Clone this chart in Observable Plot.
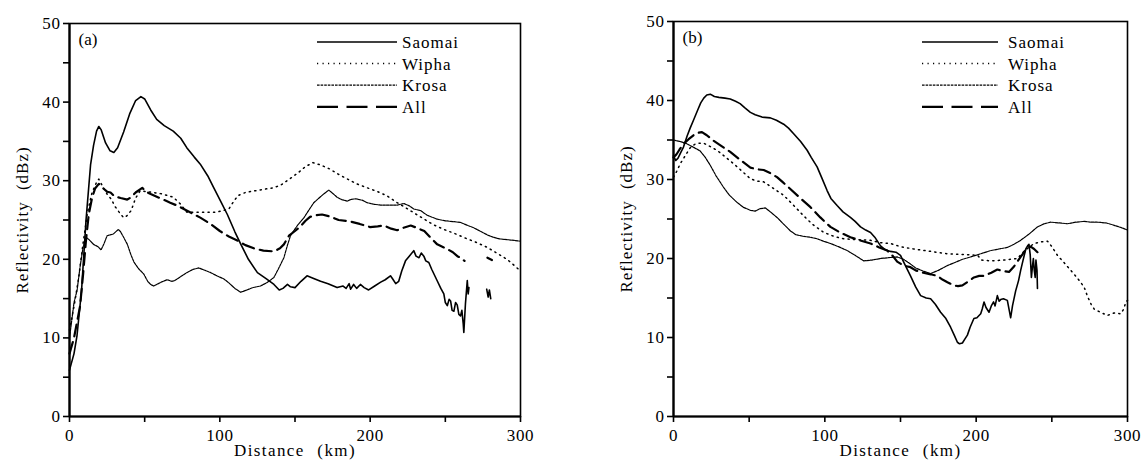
<!DOCTYPE html>
<html><head><meta charset="utf-8">
<script src="https://cdn.jsdelivr.net/npm/d3@7"></script>
<script src="https://cdn.jsdelivr.net/npm/@observablehq/plot@0.6"></script>
<style>
body{margin:0;background:#fff;}
#wrap{display:flex;width:1142px;height:463px;overflow:hidden;}
#wrap svg{flex:none;}
</style></head><body><div id="wrap"></div>
<script>
// ---- Data (distance km, reflectivity dBz); null = gap ----
const seriesNames = ["Saomai", "Wipha", "Krosa", "All"];
const xTicks = [0, 100, 200, 300];
const xMinor = [50, 150, 250];
const yTicks = [0, 10, 20, 30, 40, 50];
const yMinor = [5, 15, 25, 35, 45];
const xLabel = "Distance (km)";
const yLabel = "Reflectivity (dBz)";

const saomaiA = [[0,5.9],[3,8],[5,10.3],[8,16],[11,25],[14,32],[16,34.5],[18,36.3],[19.5,36.9],[21,36.5],[24,34.8],[27,33.8],[29.5,33.6],[32,34.2],[36,36.2],[40,38.5],[44,40.2],[47.5,40.7],[50,40.4],[54,39],[58,37.8],[63,37],[69,36.3],[74,35.4],[78,34.2],[83,33],[87,32.1],[92,30.6],[96,29.1],[101,27.2],[105,25.7],[110,23.5],[114,21.9],[119,20],[125,18.3],[131,17.5],[136,16.8],[139.5,16.1],[142,16.3],[145,16.8],[147,16.5],[150,16.4],[154,17.2],[158,17.9],[162,17.6],[167,17.2],[172,16.9],[178,16.4],[182,16.6],[184,16.3],[186,16.9],[187,16.2],[189,16.8],[191,16.3],[193.5,16.8],[196,16.4],[199,16.1],[203,16.6],[207,17.1],[210,17.4],[213.5,17.9],[215,17.5],[217,16.9],[219,17.2],[221,18.5],[223.5,19.8],[226,20.4],[229,21.1],[230.5,20.4],[232.5,20.2],[234,20.8],[235.7,20.4],[237,19.8],[239,19.6],[241,18.7],[244.5,17.3],[247,16.3],[249,15.6],[250,14.5],[251.3,14.1],[252.5,14.9],[253.5,14.7],[254.5,13.5],[255.7,13.4],[256.8,14.5],[257.9,14.2],[259,13],[260.1,12.8],[261,13.5],[261.9,11.8],[262.3,10.7],[263.4,14.4],[264.6,17.3],[265.2,15.6],[265.7,16.4],[266,null],[277.5,16.2],[278.5,15.2],[279.3,16.1],[280.2,15.0]];
const wiphaA = [[0,11],[3,14],[6,17.5],[9,22],[12,26],[15,28.5],[18,29.8],[19.5,30.2],[22,29.3],[25,28.3],[28,27.6],[30,26.8],[33,26],[36,25.3],[38,25.5],[41,26.2],[44,27.8],[47,28.7],[52,28.6],[56,28.5],[62,28.3],[69,27.9],[74,27],[78,26],[83,26],[87,26],[93,26],[98,26],[102,26.2],[106,26.4],[109,27.3],[112,28.1],[117,28.5],[123,28.7],[129,28.9],[136,29.1],[141,29.5],[147,30.3],[152,31],[157,31.8],[162,32.3],[167,32],[173,31.5],[179,30.8],[185,30.2],[191,29.6],[198,29.1],[205,28.6],[211,28.1],[218,27.2],[225,26.4],[230,25.8],[236,25.1],[242,24.4],[249,23.8],[256,23.3],[262,22.8],[270,22.2],[278,21.5],[285,20.7],[291,20],[296,19.2],[300,18.5]];
const krosaA = [[0,10],[2,13],[3,14.5],[5,16],[7,19],[9,21.5],[11,22.8],[13,22.5],[16,21.9],[19,21.6],[21,21.2],[23,22],[25,23],[29,23.2],[32.5,23.8],[34,23.5],[36,22.8],[38.5,21.9],[41,20.5],[43,19.6],[46,18.8],[49.5,18.1],[52,17.2],[54,16.8],[56,16.6],[58,16.8],[61,17.1],[65,17.4],[68,17.2],[70,17.3],[74,17.8],[78,18.3],[82,18.7],[86,18.9],[90,18.6],[94,18.3],[98,17.9],[102.7,17.5],[106,17],[110,16.3],[113.8,15.8],[118,16.1],[122,16.4],[127,16.6],[131,17],[134,17.4],[136,17.7],[139,18.8],[142.6,20.2],[145,21.8],[147,23],[149,23.6],[152,24.4],[156,25.3],[159,26.2],[162.5,27.2],[166,27.8],[169,28.3],[172.5,28.8],[175,28.4],[178,27.9],[181,27.6],[184.8,27.4],[187,27.6],[190.3,27.7],[195,27.5],[198,27.2],[202.5,27],[207,26.9],[213.6,26.9],[218,26.9],[222.4,27.1],[226,26.8],[229,26.4],[233.5,26.2],[238,25.6],[244.6,25.1],[250,24.9],[255,24.8],[260,24.7],[265,24.3],[269,24],[273,23.6],[278,23.1],[282,22.8],[286,22.6],[291,22.5],[296,22.4],[300,22.3]];
const allA = [[0,8],[3,10],[5,12],[7,14],[9,18],[11,22.5],[12.8,25.7],[15,27.8],[17,29],[19.5,29.6],[22,29.1],[25,28.6],[27.3,28.5],[30,28],[34,27.8],[38.4,27.6],[41,27.9],[44,28.5],[48.4,29.1],[51,28.6],[54,28.3],[60,27.8],[67,27.2],[72,26.8],[76,26.4],[82,25.8],[87,25.3],[93,24.6],[100,23.6],[106,22.9],[111.6,22.4],[117,21.8],[122.6,21.4],[129,21.1],[136,21],[140,21.4],[142.6,21.9],[146,23],[150,23.6],[153.7,24.2],[157,24.9],[160,25.4],[164,25.6],[168,25.7],[174,25.4],[179,25],[187,24.8],[193,24.5],[200,24.1],[205,24.2],[209,24.3],[214,23.9],[218,23.7],[222,24],[227,24.3],[231,24],[236,23.6],[240,22.8],[244.6,21.9],[248,21.6],[251.3,21.3],[255,20.9],[258,20.4],[260,20.2],[262.8,19.8],[263.5,null],[278,20.2],[281,19.9]];

const saomaiB = [[0,33],[1.5,32.4],[3,32.7],[5,33.5],[6.6,34.1],[9,35.5],[11,36.5],[13.2,37.5],[16,38.8],[18,39.7],[20,40.3],[22,40.7],[24.3,40.8],[27,40.5],[30,40.4],[34,40.3],[37.5,40.2],[41,39.9],[44,39.6],[47,39.1],[50.8,38.5],[54,38.2],[58.5,37.9],[64,37.8],[68,37.5],[72.8,37],[76,36.5],[79.4,35.8],[84,34.8],[88.3,33.7],[91,32.8],[94.9,31.6],[98,30.2],[101.5,28.6],[104,27.6],[108.1,26.7],[112,25.9],[116.9,25.2],[120,24.7],[123.6,24],[127,23.6],[130.2,23.3],[133,22.7],[136.8,21.6],[140,21.1],[143.4,20.9],[147,20.8],[150,20.4],[153,19.2],[156.6,17.8],[160,16.4],[163.3,15.3],[167,15],[169.9,14.9],[173,14.2],[176.5,13.2],[180,12.4],[183.1,11.3],[185.5,10.3],[187.6,9.4],[189,9.2],[190.9,9.3],[192.5,9.8],[194.2,10.3],[196,11.3],[198.5,12.4],[200.5,12.5],[203,13],[204,13.6],[205.2,14.5],[206.5,13.8],[208.5,13.2],[210,14],[211.5,14.5],[212.5,14],[214,15.3],[215.2,14.6],[216.2,14.8],[218,14.9],[220.6,14.7],[221.8,13.5],[222.8,12.5],[224,14],[226.1,15.9],[228,17.2],[229.4,18.5],[231,19.8],[232.8,21.2],[234,21.6],[234.9,21.8],[235.7,20.5],[236.5,17.6],[237.2,19],[237.8,20],[238.4,18.5],[239,17.6],[239.5,19.8],[240.2,18.5],[240.5,16.2]];
const wiphaB = [[0,30.3],[2,31],[4.5,32],[7.7,33],[11,34],[14.4,34.5],[17,34.6],[19.9,34.6],[24,34.2],[28.7,33.7],[34,32.9],[39.7,32],[45,31.1],[50.8,30.1],[55,29.8],[59.6,29.7],[65,29],[72.8,28],[79,26.8],[86,25.4],[92,24.3],[99.3,23.3],[106,22.8],[112.5,22.5],[120,22.4],[130.2,22.3],[137,22],[143.4,21.9],[150,21.5],[158.8,21.2],[170,20.9],[180.9,20.6],[192,20.5],[201,20.4],[203.5,19.8],[210,19.7],[218,19.8],[227.3,20],[232,21],[238.3,21.9],[243,22.1],[247.1,22.2],[250,21.5],[253.7,20.4],[258,19.5],[262.5,18.5],[267,17.5],[271.3,16.4],[273.6,15.2],[276,14.2],[278,13.6],[282,13.2],[286.8,12.8],[291,13.1],[295.6,13],[297.5,13.6],[298.9,14.5],[300,14.7]];
const krosaB = [[0,35],[4.4,34.8],[8,34.6],[11,34.3],[14,34],[17.7,33.6],[21,32.8],[24.3,31.8],[28,30.5],[33.1,29],[37,28],[42,27.1],[46,26.5],[50.8,26.1],[54,26],[57,26.3],[60.7,26.4],[64,25.9],[68.4,25.2],[72,24.5],[77.2,23.5],[81,23],[86,22.8],[90,22.7],[94.9,22.5],[99,22.2],[103.7,21.9],[109,21.5],[114.8,21],[120,20.4],[125.7,19.7],[131,19.8],[136.8,20],[142,20.1],[147.8,20.2],[152,19.9],[156.6,19.3],[160,18.8],[165,18.4],[169.9,18.1],[175,18.5],[180.9,19.1],[186,19.5],[191,19.9],[196.4,20.2],[203,20.6],[209.6,21],[215,21.2],[220.6,21.4],[225,21.8],[229.4,22.3],[235,23.1],[240.5,24],[245,24.4],[249.3,24.6],[255,24.5],[260.3,24.4],[266,24.6],[271.3,24.7],[276,24.6],[280.2,24.6],[286,24.5],[291.2,24.2],[296,23.9],[300,23.6]];
const allB = [[0,32.8],[2,33.2],[4,33.8],[6.6,34.5],[10,35.1],[13.2,35.6],[16,35.9],[18.8,36],[22,35.6],[26.5,34.9],[32,34.2],[37.5,33.5],[44,32.5],[50.8,31.5],[55,31.3],[59.6,31.2],[64,30.8],[68.4,30.3],[72,29.7],[77.2,28.8],[84,27.6],[90.5,26.5],[97,25.2],[103.7,24],[110,23.3],[116.9,22.7],[123,22.3],[130.2,21.9],[136,21.4],[141.2,21],[145,20.3],[147.8,19.6],[152,19.1],[156.6,18.9],[160,18.5],[165,18.2],[170,18],[174.3,17.8],[178,17.3],[181,17],[185.3,16.6],[188,16.5],[190.9,16.6],[194,17],[198.5,17.6],[202,17.8],[205.2,17.8],[210,18.2],[214,18.6],[218,18.4],[221.7,18.3],[225,19],[229.4,20.2],[233.9,21.4],[236,21.5],[238.3,21.2],[240.5,20.8]];

// ---- Styles ----
const FONT = "'Liberation Serif', 'Times New Roman', serif";
const lineStyle = {
  Saomai: {strokeWidth: 1.6, dash: null, legendDash: null},
  Wipha:  {strokeWidth: 1.5, dash: "1.2,4.3", legendDash: "1.2,4.3"},
  Krosa:  {strokeWidth: 1.2, dash: "2.6,1", legendDash: "2.6,1"},
  All:    {strokeWidth: 2.2, dash: "12,6", legendDash: "21,8.5"}
};

function spaced(letter, word) {
  return function(index, scales, values, dims, ctx, next) {
    const g = next(index, scales, values, dims, ctx);
    d3.select(g).selectAll("text").attr("letter-spacing", letter).attr("word-spacing", word);
    return g;
  };
}

function panel({series, tag, width, marginLeft, marginRight, marginTop, legendX, legendLen, legendText}) {
  const marks = [
    Plot.frame({strokeWidth: 1.6}),
    Plot.ruleX([0], {strokeWidth: 2.2}),
    Plot.ruleY([0], {strokeWidth: 2.2}),
    Plot.axisX({ticks: xTicks, tickSize: 6, tickPadding: 6, strokeWidth: 1.6, label: null, fontSize: 17, render: spaced("0.6px", "0px")}),
    Plot.axisX({ticks: xMinor, tickSize: 6, strokeWidth: 1.6, tickFormat: () => "", label: null}),
    Plot.axisY({ticks: yTicks, tickSize: 6, tickPadding: 3, strokeWidth: 1.6, label: null, fontSize: 17, render: spaced("0.6px", "0px")}),
    Plot.axisY({ticks: yMinor, tickSize: 6, strokeWidth: 1.6, tickFormat: () => "", label: null}),
    ...seriesNames.map((name, i) => Plot.line(series[i], {
      x: d => d[0], y: d => d[1], stroke: "black",
      strokeWidth: lineStyle[name].strokeWidth,
      strokeDasharray: lineStyle[name].dash,
      strokeLinejoin: "round"
    })),
    Plot.text([tag], {text: d => d, frameAnchor: "top-left", dx: 9, dy: 16, lineAnchor: "middle", textAnchor: "start", fontSize: 17}),
    Plot.text([xLabel], {text: d => d, frameAnchor: "bottom", dy: 34, lineAnchor: "middle", fontSize: 17, render: spaced("1.4px", "7px")}),
    Plot.text([yLabel], {text: d => d, frameAnchor: "left", rotate: -90, dx: -47, lineAnchor: "middle", textAnchor: "middle", fontSize: 17, render: spaced("1px", "6px")})
  ];
  const svg = Plot.plot({
    width, height: 463,
    marginLeft, marginRight, marginTop, marginBottom: 47,
    x: {domain: [0, 300]},
    y: {domain: [0, 50]},
    style: {fontFamily: FONT, fontSize: "17px", background: "white", color: "black"},
    marks
  });
  // legend
  const g = d3.select(svg).append("g").attr("font-family", FONT).attr("font-size", 17).attr("text-anchor", "start");
  seriesNames.forEach((name, i) => {
    const y = 42 + i * 21.6;
    g.append("line").attr("x1", legendX).attr("x2", legendX + legendLen)
      .attr("y1", y).attr("y2", y).attr("stroke", "black")
      .attr("stroke-width", lineStyle[name].strokeWidth)
      .attr("stroke-dasharray", lineStyle[name].legendDash);
    g.append("text").attr("x", legendX + legendText).attr("y", y).attr("dy", "0.35em")
      .attr("text-anchor", "start").attr("letter-spacing", "1px").text(name);
  });
  return svg;
}

const wrap = document.getElementById("wrap");
wrap.append(panel({series: [saomaiA, wiphaA, krosaA, allA], tag: "(a)", width: 571,
  marginLeft: 69, marginRight: 51, marginTop: 23, legendX: 317, legendLen: 80, legendText: 85}));
wrap.append(panel({series: [saomaiB, wiphaB, krosaB, allB], tag: "(b)", width: 571,
  marginLeft: 102, marginRight: 15, marginTop: 21, legendX: 351, legendLen: 76, legendText: 86}));
</script></body></html>
